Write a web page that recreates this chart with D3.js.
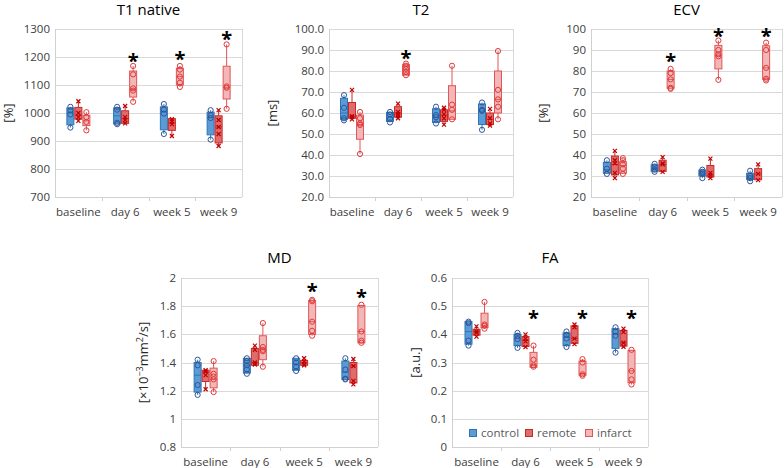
<!DOCTYPE html>
<html>
<head>
<meta charset="utf-8">
<script src="https://cdn.jsdelivr.net/npm/d3@7/dist/d3.min.js"></script>
<style>
  html, body { margin: 0; padding: 0; background: #fff; }
  svg { display: block; font-family: "Open Sans", "Noto Sans", sans-serif; }
</style>
</head>
<body>
<svg id="chart" width="784" height="468"></svg>
<script>
// ---------- data ----------
const categories = ["baseline", "day 6", "week 5", "week 9"];
const groups = ["control", "remote", "infarct"];

// points per group (control, remote, infarct) x category
const t1Points = [
  [[1022,1010,995,948],[1022,1012,965,960],[1032,1012,998,925],[1010,992,982,905]],
  [[1042,1000,985,972],[1025,985,975,963],[978,970,960,918],[1010,975,950,925,882]],
  [[1003,985,968,938],[1168,1138,1088,1080,1040],[1168,1155,1130,1108,1093],[1245,1095,1090,1015]]
];
// boxes: [q1, median, q3]
const t1Boxes = [
  [[958,1000,1018],[961,990,1018],[940,1005,1022],[922,985,1003]],
  [[978,992,1020],[963,980,1008],[938,964,980],[893,950,990]],
  [[955,972,992],[1057,1084,1150],[1100,1130,1160],[1050,1092,1167]]
];
const t1Stars = [null, 1196, 1205, 1274];
const t1Ticks = [700, 800, 900, 1000, 1100, 1200, 1300];

const t2Points = [
  [[68.5,62.5,57.5,56.5],[60.5,59.3,57.2,55.5],[63,59,58,55],[65,61.5,61,52]],
  [[71,58.5,58,57],[64.5,60.5,59.5,58.5,57.5],[62.5,61.5,59.5,57.5,54.5],[62,57.5,55,54]],
  [[60.5,57.5,55,54.3,40.5],[83.5,82.5,81,79.5,78],[82.5,64,61.5,57],[89.5,71,66.5,63,57]]
];
const t2Boxes = [
  [[57,60,67],[56,58,60.3],[55.5,58,62],[54.5,61,64.3]],
  [[57.5,58.3,65],[58,60,63],[56,59,61.5],[54.5,57,60]],
  [[47.5,54.5,59],[78,80.5,83],[57,61,73],[60,66.5,80]]
];
const t2Stars = [null, 87.8, null, null];
const t2Ticks = [20, 30, 40, 50, 60, 70, 80, 90, 100];

const ecvPoints = [
  [[37.5,33.5,31],[35.8,34.5,33,32],[33,32,31,29],[32.5,30,29,27.5]],
  [[42,37.5,36,31.5,29],[39,36,35.5,32],[38.3,31.5,30.3,29],[35.5,31,28]],
  [[38.5,37.5,35.5,33.5,31],[81,79,76,72,71.5],[94.5,90,88,87,75.8],[93.5,90,81.5,76.3,75.5]]
];
const ecvBoxes = [
  [[31.3,33,36.5],[32.3,33.5,35.3],[30,31,32.8],[28.3,29.5,31.3]],
  [[30.5,35.5,39.5],[32.2,35.5,37.5],[29.5,30.3,35],[28.2,31,33.5]],
  [[31.3,35,36.8],[71.8,76,80],[81,87.3,92.2],[76,81.5,92]]
];
const ecvStars = [null, 86, 98, 98];
const ecvTicks = [20, 30, 40, 50, 60, 70, 80, 90, 100];

const mdPoints = [
  [[1.42,1.38,1.24,1.17],[1.43,1.41,1.38,1.35,1.32],[1.43,1.4,1.37,1.34],[1.43,1.35,1.285,1.28]],
  [[1.345,1.335,1.31,1.21],[1.52,1.49,1.4,1.385],[1.43,1.405,1.385,1.38],[1.425,1.375,1.27,1.245]],
  [[1.41,1.32,1.3,1.28,1.19],[1.68,1.51,1.49,1.48,1.37],[1.845,1.835,1.69,1.625,1.59],[1.81,1.62,1.555,1.54]]
];
const mdBoxes = [
  [[1.19,1.31,1.40],[1.325,1.38,1.43],[1.345,1.39,1.43],[1.28,1.33,1.41]],
  [[1.265,1.33,1.345],[1.38,1.4,1.5],[1.38,1.4,1.415],[1.255,1.375,1.40]],
  [[1.22,1.28,1.36],[1.42,1.49,1.59],[1.6,1.69,1.84],[1.54,1.62,1.805]]
];
const mdStars = [null, null, 1.93, 1.886];
const mdTicks = [0.8, 1, 1.2, 1.4, 1.6, 1.8, 2];

const faPoints = [
  [[0.445,0.44,0.378,0.36],[0.405,0.395,0.383,0.352],[0.41,0.398,0.385,0.355],[0.425,0.41,0.395,0.335]],
  [[0.428,0.41,0.405,0.392],[0.4,0.385,0.375,0.355],[0.435,0.425,0.385,0.365],[0.42,0.408,0.37,0.356]],
  [[0.515,0.435,0.43,0.42],[0.36,0.31,0.29,0.285],[0.312,0.3,0.258,0.253],[0.345,0.27,0.24,0.222]]
];
const faBoxes = [
  [[0.365,0.41,0.445],[0.36,0.385,0.4],[0.36,0.39,0.405],[0.35,0.4,0.42]],
  [[0.397,0.41,0.418],[0.357,0.378,0.392],[0.368,0.385,0.43],[0.358,0.37,0.414]],
  [[0.424,0.432,0.475],[0.283,0.29,0.336],[0.255,0.26,0.305],[0.228,0.27,0.343]]
];
const faStars = [null, 0.467, 0.467, 0.467];
const faTicks = [0, 0.1, 0.2, 0.3, 0.4, 0.5, 0.6];

// ---------- styles ----------
const fills   = ["#5b9bd5", "#e06b6b", "#f4b7b7"];
const strokes = ["#2e75b6", "#c82828", "#e05555"];
const marks   = ["#2f5597", "#c00000", "#e03a3a"];
const markerType = ["circle", "cross", "circle"];

const svg = d3.select("#chart");

const panels = [
  { title: "T1 native", ylabel: "[%]", pts: t1Points, boxes: t1Boxes, stars: t1Stars, ticks: t1Ticks,
    fmt: d3.format("d"), x0: 55, x1: 242, y0: 29, y1: 197, ylx: 13, titleY: 15, catY: 216 },
  { title: "T2", ylabel: "[ms]", pts: t2Points, boxes: t2Boxes, stars: t2Stars, ticks: t2Ticks,
    fmt: d3.format(".1f"), x0: 329, x1: 513, y0: 29, y1: 197, ylx: 277, titleY: 15, catY: 216 },
  { title: "ECV", ylabel: "[%]", pts: ecvPoints, boxes: ecvBoxes, stars: ecvStars, ticks: ecvTicks,
    fmt: d3.format("d"), x0: 591, x1: 782, y0: 29, y1: 197, ylx: 548, titleY: 15, catY: 216 },
  { title: "MD", ylabel: "md", pts: mdPoints, boxes: mdBoxes, stars: mdStars, ticks: mdTicks,
    fmt: d => String(+d.toFixed(1)), x0: 181, x1: 378, y0: 278, y1: 447, ylx: 148, titleY: 263, catY: 466 },
  { title: "FA", ylabel: "[a.u.]", pts: faPoints, boxes: faBoxes, stars: faStars, ticks: faTicks,
    fmt: d => String(+d.toFixed(1)), x0: 452, x1: 648, y0: 278, y1: 447, ylx: 420, titleY: 263, catY: 466, legend: true }
];

const offsets = [-8, 0, 8];
const bw = 7;

panels.forEach(p => {
  const g = svg.append("g");
  const x = d3.scaleBand().domain(categories).range([p.x0, p.x1]);
  const y = d3.scaleLinear().domain(d3.extent(p.ticks)).range([p.y1, p.y0]);

  // gridlines
  g.selectAll(".grid").data(p.ticks).join("line")
    .attr("x1", p.x0).attr("x2", p.x1)
    .attr("y1", d => Math.round(y(d)) + 0.5).attr("y2", d => Math.round(y(d)) + 0.5)
    .attr("stroke", "#d9d9d9").attr("stroke-width", 1);
  // right border
  g.append("line").attr("x1", p.x1 + 0.5).attr("x2", p.x1 + 0.5)
    .attr("y1", p.y0).attr("y2", p.y1).attr("stroke", "#d9d9d9");
  // left axis
  g.append("line").attr("x1", p.x0 + 0.5).attr("x2", p.x0 + 0.5)
    .attr("y1", p.y0).attr("y2", p.y1 + 0.5).attr("stroke", "#d0d0d0");
  // bottom axis
  g.append("line").attr("x1", p.x0).attr("x2", p.x1)
    .attr("y1", Math.round(p.y1) + 0.5).attr("y2", Math.round(p.y1) + 0.5).attr("stroke", "#d0d0d0");
  // category dividers
  categories.slice(1).forEach(c => {
    const xx = Math.round(x(c)) + 0.5;
    g.append("line").attr("x1", xx).attr("x2", xx)
      .attr("y1", p.y1).attr("y2", p.y1 + 4).attr("stroke", "#d0d0d0");
  });

  // tick labels
  g.selectAll(".tl").data(p.ticks).join("text")
    .attr("x", p.x0 - 5).attr("y", d => y(d) + 4)
    .attr("text-anchor", "end").attr("font-size", 11.5).attr("fill", "#404040")
    .text(p.fmt);
  // category labels
  g.selectAll(".cl").data(categories).join("text")
    .attr("x", d => x(d) + x.bandwidth() / 2).attr("y", p.catY)
    .attr("text-anchor", "middle").attr("font-size", 11.5).attr("fill", "#404040")
    .text(d => d);
  // title
  g.append("text").attr("x", (p.x0 + p.x1) / 2).attr("y", p.titleY)
    .attr("text-anchor", "middle").attr("font-size", 15).attr("fill", "#000")
    .text(p.title);
  // y label
  const yl = g.append("text")
    .attr("transform", `translate(${p.ylx},${(p.y0 + p.y1) / 2}) rotate(-90)`)
    .attr("text-anchor", "middle").attr("font-size", 13).attr("fill", "#262626");
  if (p.ylabel === "md") {
    yl.append("tspan").text("[×10");
    yl.append("tspan").attr("font-size", 9).attr("dy", -5).text("−3");
    yl.append("tspan").attr("dy", 5).text("mm");
    yl.append("tspan").attr("font-size", 9).attr("dy", -5).text("2");
    yl.append("tspan").attr("dy", 5).text("/s]");
  } else {
    yl.text(p.ylabel);
  }

  // boxes
  groups.forEach((grp, gi) => {
    categories.forEach((c, ci) => {
      const cx = x(c) + x.bandwidth() / 2 + offsets[gi];
      const pts = p.pts[gi][ci];
      const [q1, med, q3] = p.boxes[gi][ci];
      const lo = d3.min(pts), hi = d3.max(pts);
      // whiskers
      g.append("line").attr("x1", cx).attr("x2", cx)
        .attr("y1", y(hi)).attr("y2", y(Math.min(q3, hi)))
        .attr("stroke", strokes[gi]).attr("stroke-width", 1);
      g.append("line").attr("x1", cx).attr("x2", cx)
        .attr("y1", y(Math.max(q1, lo))).attr("y2", y(lo))
        .attr("stroke", strokes[gi]).attr("stroke-width", 1);
      // box
      g.append("rect").attr("x", cx - bw / 2).attr("width", bw)
        .attr("y", y(q3)).attr("height", Math.max(1, y(q1) - y(q3)))
        .attr("fill", fills[gi]).attr("stroke", strokes[gi]).attr("stroke-width", 1);
      // median
      g.append("line").attr("x1", cx - bw / 2).attr("x2", cx + bw / 2)
        .attr("y1", y(med)).attr("y2", y(med))
        .attr("stroke", strokes[gi]).attr("stroke-width", 1);
      // points
      pts.forEach(v => {
        if (markerType[gi] === "circle") {
          g.append("circle").attr("cx", cx).attr("cy", y(v)).attr("r", 2.6)
            .attr("fill", "none").attr("stroke", marks[gi]).attr("stroke-width", 1);
        } else {
          const s = 2;
          g.append("path")
            .attr("d", `M${cx - s},${y(v) - s}L${cx + s},${y(v) + s}M${cx - s},${y(v) + s}L${cx + s},${y(v) - s}`)
            .attr("stroke", marks[gi]).attr("stroke-width", 1.2);
        }
      });
    });
  });

  // significance stars
  categories.forEach((c, ci) => {
    const sv = p.stars[ci];
    if (sv == null) return;
    g.append("text").attr("x", x(c) + x.bandwidth() / 2 + offsets[2]).attr("y", y(sv) + 10)
      .attr("text-anchor", "middle").attr("font-size", 20).attr("font-weight", "bold")
      .attr("fill", "#000").text("*");
  });

  // legend
  if (p.legend) {
    const lx = [469, 525, 585];
    groups.forEach((grp, gi) => {
      g.append("rect").attr("x", lx[gi] + 0.5).attr("y", 429.5).attr("width", 7).attr("height", 7)
        .attr("fill", fills[gi]).attr("stroke", strokes[gi]);
      g.append("text").attr("x", lx[gi] + 12).attr("y", 437).attr("font-size", 11.5)
        .attr("fill", "#595959").text(grp);
    });
  }
});
</script>
</body>
</html>
